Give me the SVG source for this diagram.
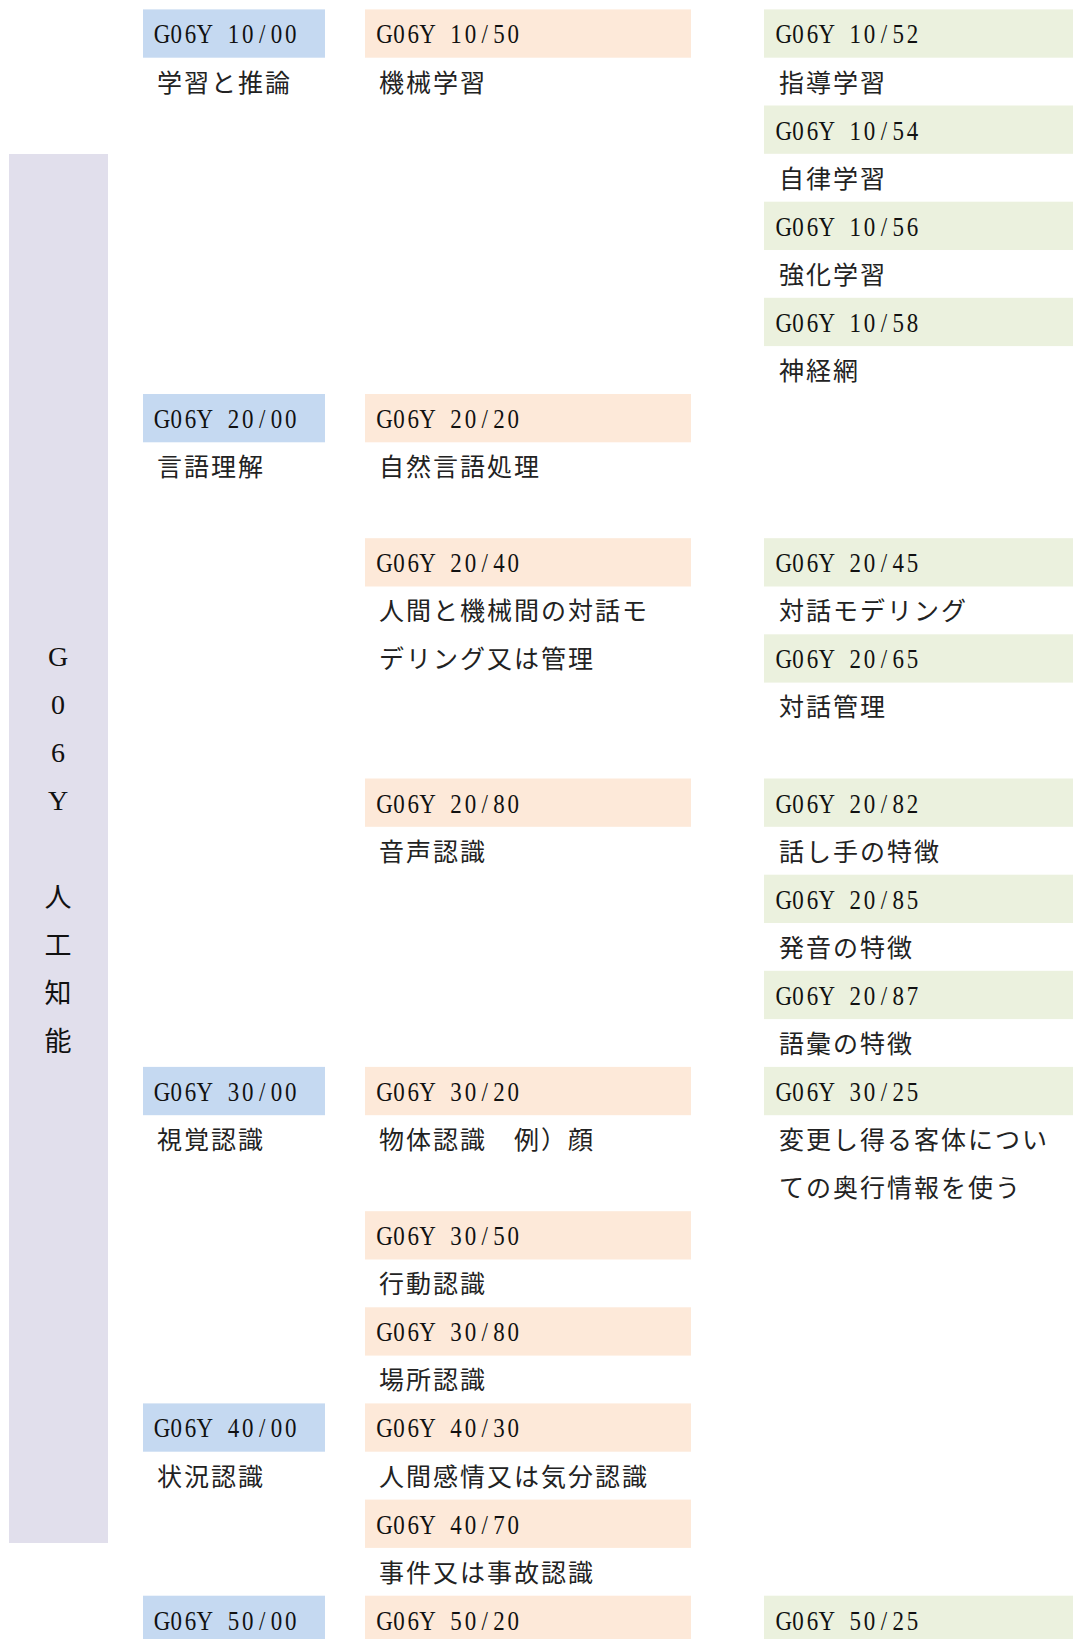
<svg xmlns="http://www.w3.org/2000/svg" width="1073" height="1639" viewBox="0 0 1073 1639">
<style>
.bg{fill:#ffffff}
.blue{fill:#C5D9F1}
.orange{fill:#FDE9D9}
.green{fill:#EBF1DE}
.purple{fill:#E1DFEC}
.code{font-family:"Liberation Serif","DejaVu Serif",serif;font-size:27px;fill:#111;text-anchor:middle}
.jp{font-family:"Noto Sans CJK JP","Noto Sans CJK SC",sans-serif;font-size:25px;letter-spacing:2px;fill:#222}
.vc{font-family:"Liberation Serif","DejaVu Serif",serif;font-size:28px;fill:#111;text-anchor:middle}
.vj{font-family:"Noto Sans CJK JP","Noto Sans CJK SC",sans-serif;font-size:27px;fill:#111;text-anchor:middle}
</style>
<rect class="bg" x="0" y="0" width="1073" height="1639"/>
<g id="root-G06Y">
<rect class="purple" x="9" y="154" width="99" height="1389"/>
<text class="vc" x="58" y="666">G</text>
<text class="vc" x="58" y="714">0</text>
<text class="vc" x="58" y="762">6</text>
<text class="vc" x="58" y="810">Y</text>
<text class="vj" x="58" y="907">人</text>
<text class="vj" x="58" y="955">工</text>
<text class="vj" x="58" y="1003">知</text>
<text class="vj" x="58" y="1051">能</text>
</g>
<g id="connectors"/>
<!-- Level 1 (blue) -->
<g id="n-10-00"><rect class="blue" x="143" y="9.4" width="182" height="48.3"/><text class="code" transform="translate(162,43.4) scale(0.85,1)" x="0 16.82 33.65 50.47 67.29 84.12 100.94 117.76 134.59 151.41">G06Y 10/00</text><text class="jp" x="157" y="91.5">学習と推論</text></g>
<g id="n-20-00"><rect class="blue" x="143" y="394" width="182" height="48.3"/><text class="code" transform="translate(162,428) scale(0.85,1)" x="0 16.82 33.65 50.47 67.29 84.12 100.94 117.76 134.59 151.41">G06Y 20/00</text><text class="jp" x="157" y="476">言語理解</text></g>
<g id="n-30-00"><rect class="blue" x="143" y="1066.9" width="182" height="48.3"/><text class="code" transform="translate(162,1100.9) scale(0.85,1)" x="0 16.82 33.65 50.47 67.29 84.12 100.94 117.76 134.59 151.41">G06Y 30/00</text><text class="jp" x="157" y="1149">視覚認識</text></g>
<g id="n-40-00"><rect class="blue" x="143" y="1403.4" width="182" height="48.3"/><text class="code" transform="translate(162,1437.4) scale(0.85,1)" x="0 16.82 33.65 50.47 67.29 84.12 100.94 117.76 134.59 151.41">G06Y 40/00</text><text class="jp" x="157" y="1485.5">状況認識</text></g>
<g id="n-50-00"><rect class="blue" x="143" y="1595.7" width="182" height="48.3"/><text class="code" transform="translate(162,1629.7) scale(0.85,1)" x="0 16.82 33.65 50.47 67.29 84.12 100.94 117.76 134.59 151.41">G06Y 50/00</text></g>
<!-- Level 2 (orange) -->
<g id="n-10-50"><rect class="orange" x="365" y="9.4" width="326" height="48.3"/><text class="code" transform="translate(384.6,43.4) scale(0.85,1)" x="0 16.82 33.65 50.47 67.29 84.12 100.94 117.76 134.59 151.41">G06Y 10/50</text><text class="jp" x="379" y="91.5">機械学習</text></g>
<g id="n-20-20"><rect class="orange" x="365" y="394" width="326" height="48.3"/><text class="code" transform="translate(384.6,428) scale(0.85,1)" x="0 16.82 33.65 50.47 67.29 84.12 100.94 117.76 134.59 151.41">G06Y 20/20</text><text class="jp" x="379" y="476">自然言語処理</text></g>
<g id="n-20-40"><rect class="orange" x="365" y="538.2" width="326" height="48.3"/><text class="code" transform="translate(384.6,572.2) scale(0.85,1)" x="0 16.82 33.65 50.47 67.29 84.12 100.94 117.76 134.59 151.41">G06Y 20/40</text><text class="jp" x="379" y="620.2">人間と機械間の対話モ</text><text class="jp" x="379" y="668.3">デリング又は管理</text></g>
<g id="n-20-80"><rect class="orange" x="365" y="778.5" width="326" height="48.3"/><text class="code" transform="translate(384.6,812.5) scale(0.85,1)" x="0 16.82 33.65 50.47 67.29 84.12 100.94 117.76 134.59 151.41">G06Y 20/80</text><text class="jp" x="379" y="860.6">音声認識</text></g>
<g id="n-30-20"><rect class="orange" x="365" y="1066.9" width="326" height="48.3"/><text class="code" transform="translate(384.6,1100.9) scale(0.85,1)" x="0 16.82 33.65 50.47 67.29 84.12 100.94 117.76 134.59 151.41">G06Y 30/20</text><text class="jp" x="379" y="1149">物体認識　例）顔</text></g>
<g id="n-30-50"><rect class="orange" x="365" y="1211.2" width="326" height="48.3"/><text class="code" transform="translate(384.6,1245.2) scale(0.85,1)" x="0 16.82 33.65 50.47 67.29 84.12 100.94 117.76 134.59 151.41">G06Y 30/50</text><text class="jp" x="379" y="1293.2">行動認識</text></g>
<g id="n-30-80"><rect class="orange" x="365" y="1307.3" width="326" height="48.3"/><text class="code" transform="translate(384.6,1341.3) scale(0.85,1)" x="0 16.82 33.65 50.47 67.29 84.12 100.94 117.76 134.59 151.41">G06Y 30/80</text><text class="jp" x="379" y="1389.4">場所認識</text></g>
<g id="n-40-30"><rect class="orange" x="365" y="1403.4" width="326" height="48.3"/><text class="code" transform="translate(384.6,1437.4) scale(0.85,1)" x="0 16.82 33.65 50.47 67.29 84.12 100.94 117.76 134.59 151.41">G06Y 40/30</text><text class="jp" x="379" y="1485.5">人間感情又は気分認識</text></g>
<g id="n-40-70"><rect class="orange" x="365" y="1499.6" width="326" height="48.3"/><text class="code" transform="translate(384.6,1533.6) scale(0.85,1)" x="0 16.82 33.65 50.47 67.29 84.12 100.94 117.76 134.59 151.41">G06Y 40/70</text><text class="jp" x="379" y="1581.6">事件又は事故認識</text></g>
<g id="n-50-20"><rect class="orange" x="365" y="1595.7" width="326" height="48.3"/><text class="code" transform="translate(384.6,1629.7) scale(0.85,1)" x="0 16.82 33.65 50.47 67.29 84.12 100.94 117.76 134.59 151.41">G06Y 50/20</text></g>
<!-- Level 3 (green) -->
<g id="n-10-52"><rect class="green" x="764" y="9.4" width="309" height="48.3"/><text class="code" transform="translate(783.8,43.4) scale(0.85,1)" x="0 16.82 33.65 50.47 67.29 84.12 100.94 117.76 134.59 151.41">G06Y 10/52</text><text class="jp" x="779" y="91.5">指導学習</text></g>
<g id="n-10-54"><rect class="green" x="764" y="105.5" width="309" height="48.3"/><text class="code" transform="translate(783.8,139.5) scale(0.85,1)" x="0 16.82 33.65 50.47 67.29 84.12 100.94 117.76 134.59 151.41">G06Y 10/54</text><text class="jp" x="779" y="187.6">自律学習</text></g>
<g id="n-10-56"><rect class="green" x="764" y="201.7" width="309" height="48.3"/><text class="code" transform="translate(783.8,235.7) scale(0.85,1)" x="0 16.82 33.65 50.47 67.29 84.12 100.94 117.76 134.59 151.41">G06Y 10/56</text><text class="jp" x="779" y="283.8">強化学習</text></g>
<g id="n-10-58"><rect class="green" x="764" y="297.8" width="309" height="48.3"/><text class="code" transform="translate(783.8,331.8) scale(0.85,1)" x="0 16.82 33.65 50.47 67.29 84.12 100.94 117.76 134.59 151.41">G06Y 10/58</text><text class="jp" x="779" y="379.9">神経網</text></g>
<g id="n-20-45"><rect class="green" x="764" y="538.2" width="309" height="48.3"/><text class="code" transform="translate(783.8,572.2) scale(0.85,1)" x="0 16.82 33.65 50.47 67.29 84.12 100.94 117.76 134.59 151.41">G06Y 20/45</text><text class="jp" x="779" y="620.2">対話モデリング</text></g>
<g id="n-20-65"><rect class="green" x="764" y="634.3" width="309" height="48.3"/><text class="code" transform="translate(783.8,668.3) scale(0.85,1)" x="0 16.82 33.65 50.47 67.29 84.12 100.94 117.76 134.59 151.41">G06Y 20/65</text><text class="jp" x="779" y="716.4">対話管理</text></g>
<g id="n-20-82"><rect class="green" x="764" y="778.5" width="309" height="48.3"/><text class="code" transform="translate(783.8,812.5) scale(0.85,1)" x="0 16.82 33.65 50.47 67.29 84.12 100.94 117.76 134.59 151.41">G06Y 20/82</text><text class="jp" x="779" y="860.6">話し手の特徴</text></g>
<g id="n-20-85"><rect class="green" x="764" y="874.7" width="309" height="48.3"/><text class="code" transform="translate(783.8,908.7) scale(0.85,1)" x="0 16.82 33.65 50.47 67.29 84.12 100.94 117.76 134.59 151.41">G06Y 20/85</text><text class="jp" x="779" y="956.7">発音の特徴</text></g>
<g id="n-20-87"><rect class="green" x="764" y="970.8" width="309" height="48.3"/><text class="code" transform="translate(783.8,1004.8) scale(0.85,1)" x="0 16.82 33.65 50.47 67.29 84.12 100.94 117.76 134.59 151.41">G06Y 20/87</text><text class="jp" x="779" y="1052.9">語彙の特徴</text></g>
<g id="n-30-25"><rect class="green" x="764" y="1066.9" width="309" height="48.3"/><text class="code" transform="translate(783.8,1100.9) scale(0.85,1)" x="0 16.82 33.65 50.47 67.29 84.12 100.94 117.76 134.59 151.41">G06Y 30/25</text><text class="jp" x="779" y="1149">変更し得る客体につい</text><text class="jp" x="779" y="1197.1">ての奥行情報を使う</text></g>
<g id="n-50-25"><rect class="green" x="764" y="1595.7" width="309" height="48.3"/><text class="code" transform="translate(783.8,1629.7) scale(0.85,1)" x="0 16.82 33.65 50.47 67.29 84.12 100.94 117.76 134.59 151.41">G06Y 50/25</text></g>
</svg>
